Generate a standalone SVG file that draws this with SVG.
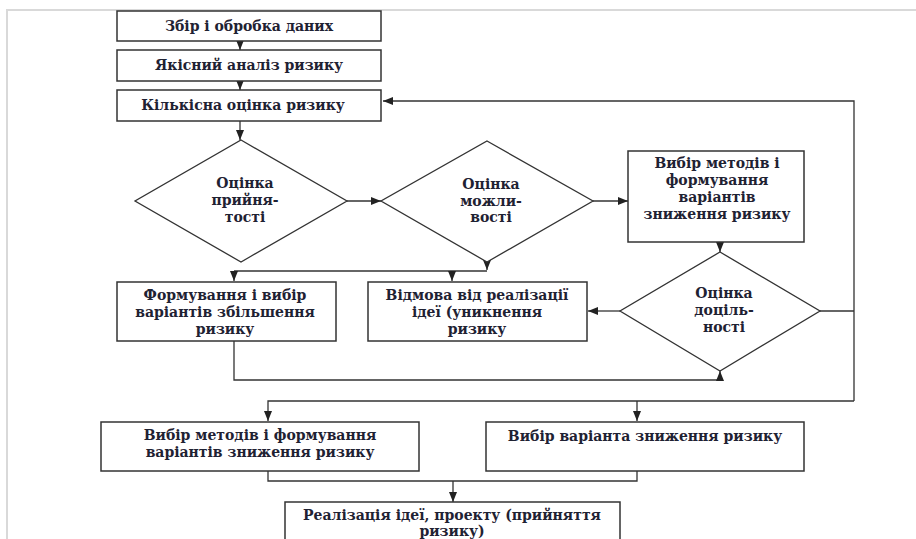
<svg xmlns="http://www.w3.org/2000/svg" width="916" height="539" viewBox="0 0 916 539">
<defs>
<marker id="ah" markerUnits="userSpaceOnUse" markerWidth="10" markerHeight="10" viewBox="0 0 10 10" refX="10" refY="5" orient="auto">
<path d="M0,1 L10,5 L0,9 Z" fill="#222"/>
</marker>
<style>
.frame{fill:none;stroke:#d9d9d9;stroke-width:2}
.box{fill:#fff;stroke:#333;stroke-width:1.5}
.dia{fill:#fff;stroke:#333;stroke-width:1.3}
.c{fill:none;stroke:#333;stroke-width:1.3}
.a{marker-end:url(#ah)}
text{font-family:'DejaVu Serif','Liberation Serif',serif;font-size:14px;font-weight:bold;fill:#1f2233;text-anchor:middle}
</style>
</defs>
<rect width="916" height="539" fill="#fff"/>
<path class="frame" d="M7,539 V10 H916"/>

<g id="connectors">
<path class="c a" d="M240,41 V50"/>
<path class="c a" d="M240,81 V90"/>
<path class="c a" d="M240,121 V140"/>
<path class="c a" d="M347,201 H381"/>
<path class="c a" d="M593,201 H628"/>
<path class="c a" d="M720,242 V252"/>
<path class="c" d="M820,311 H854"/>
<path class="c a" d="M854,401 V101 H383"/>
<path class="c a" d="M854,401 H268 V421"/>
<path class="c a" d="M637,401 V421"/>
<path class="c a" d="M620,311 H588"/>
<path class="c a" d="M234,341 V380 H720 V371"/>
<path class="c a" d="M487,262 V270"/>
<path class="c" d="M234,271 H487"/>
<path class="c a" d="M234,271 V281"/>
<path class="c a" d="M452,271 V281"/>
<path class="c" d="M268,471 V481 H637 V471"/>
<path class="c a" d="M453,481 V502"/>
</g>

<g id="n1"><rect class="box" x="117" y="11" width="264" height="30"/><text x="249" y="31">Збір і обробка даних</text></g>
<g id="n2"><rect class="box" x="117" y="50" width="264" height="31"/><text x="249" y="70">Якісний аналіз ризику</text></g>
<g id="n3"><rect class="box" x="117" y="90" width="264" height="31"/><text x="243" y="110">Кількісна оцінка ризику</text></g>

<g id="d1"><path class="dia" d="M241,140 L347,201 L241,262 L135,201 Z"/>
<text x="245" y="188">Оцінка</text><text x="245" y="205">прийня-</text><text x="245" y="222">тості</text></g>

<g id="d2"><path class="dia" d="M487,141 L593,201 L487,262 L381,201 Z"/>
<text x="491" y="189">Оцінка</text><text x="491" y="206">можли-</text><text x="491" y="222">вості</text></g>

<g id="n4"><rect class="box" x="628" y="151" width="176" height="91"/>
<text x="717" y="168">Вибір методів і</text><text x="717" y="185">формування</text><text x="717" y="202">варіантів</text><text x="717" y="219">зниження ризику</text></g>

<g id="d3"><path class="dia" d="M720,252 L820,311 L720,371 L620,311 Z"/>
<text x="724" y="298">Оцінка</text><text x="724" y="315">доціль-</text><text x="724" y="332">ності</text></g>

<g id="n5"><rect class="box" x="117" y="282" width="219" height="59"/>
<text x="225" y="300">Формування і вибір</text><text x="225" y="317">варіантів збільшення</text><text x="225" y="334">ризику</text></g>

<g id="n6"><rect class="box" x="368" y="282" width="219" height="59"/>
<text x="477" y="300">Відмова від реалізації</text><text x="477" y="317">ідеї (уникнення</text><text x="477" y="334">ризику</text></g>

<g id="n7"><rect class="box" x="101" y="422" width="318" height="49"/>
<text x="260" y="440">Вибір методів і формування</text><text x="260" y="457">варіантів зниження ризику</text></g>

<g id="n8"><rect class="box" x="486" y="422" width="318" height="49"/>
<text x="645" y="441">Вибір варіанта зниження ризику</text></g>

<g id="n9"><rect class="box" x="285" y="502" width="335" height="45"/>
<text x="452" y="520">Реалізація ідеї, проекту (прийняття</text><text x="452" y="536">ризику)</text></g>
</svg>
